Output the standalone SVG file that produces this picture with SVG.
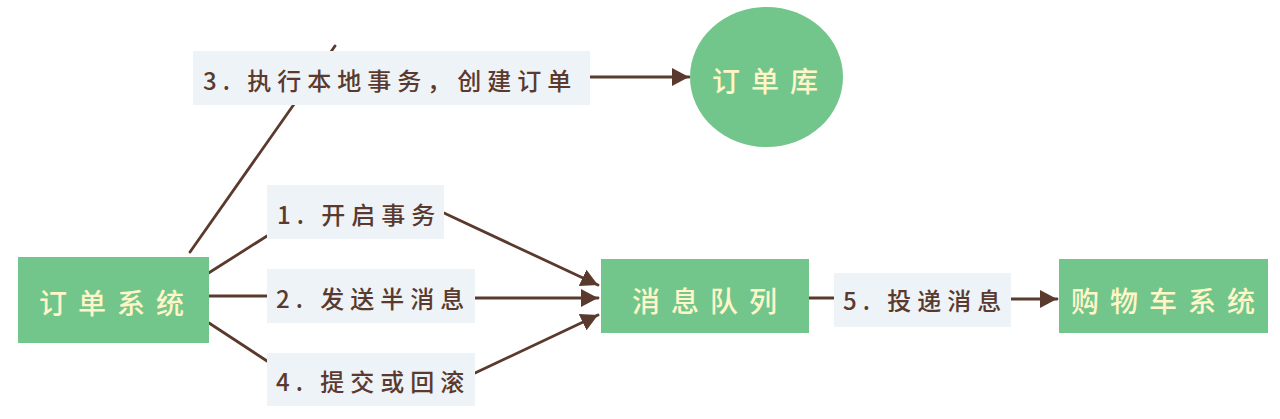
<svg xmlns="http://www.w3.org/2000/svg" width="1280" height="419" viewBox="0 0 1280 419">
<style>
.node{fill:#72C68B;}
.lbl{fill:#EEF3F7;}
.edge{stroke:#5B3A2E;stroke-width:2.8;fill:none;stroke-linecap:round;}
.arrow{marker-end:url(#ah);}
.nt{font-family:"Noto Sans CJK SC","Noto Sans",sans-serif;font-size:28px;font-weight:500;fill:#FFF6C8;letter-spacing:11px;dominant-baseline:central;}
.lt{font-family:"Noto Sans CJK SC","Noto Sans",sans-serif;font-size:24px;font-weight:500;fill:#5A3A2E;letter-spacing:6px;dominant-baseline:central;}
</style>
<defs>
<marker id="ah" markerUnits="userSpaceOnUse" markerWidth="18" markerHeight="18" refX="17" refY="9" orient="auto">
<path d="M0,0 L17,9 L0,18 Z" fill="#5B3A2E"/>
</marker>
</defs>
<rect width="1280" height="419" fill="#FFFFFF"/>
<g id="connectors">
<line class="edge" x1="190" y1="252" x2="335" y2="46"/>
<line class="edge arrow" x1="590" y1="77" x2="689" y2="77"/>
<line class="edge" x1="207" y1="274" x2="267" y2="236"/>
<line class="edge arrow" x1="444" y1="213" x2="598" y2="285"/>
<line class="edge" x1="209" y1="296" x2="267" y2="296"/>
<line class="edge arrow" x1="475" y1="298" x2="598" y2="298"/>
<line class="edge" x1="209" y1="323" x2="267" y2="361"/>
<line class="edge arrow" x1="475" y1="373" x2="598" y2="315"/>
<line class="edge" x1="809" y1="298" x2="834" y2="298"/>
<line class="edge arrow" x1="1011" y1="299" x2="1057" y2="299"/>
</g>
<g id="label3">
<rect class="lbl" x="193" y="51" width="397" height="54"/>
<text class="lt" x="203" y="79">3. 执行本地事务，创建订单</text>
</g>
<g id="label1">
<rect class="lbl" x="267" y="185" width="177" height="54"/>
<text class="lt" x="277" y="213">1. 开启事务</text>
</g>
<g id="label2">
<rect class="lbl" x="267" y="269" width="208" height="54"/>
<text class="lt" x="276" y="297">2. 发送半消息</text>
</g>
<g id="label4">
<rect class="lbl" x="267" y="353" width="208" height="53"/>
<text class="lt" x="276" y="380">4. 提交或回滚</text>
</g>
<g id="label5">
<rect class="lbl" x="834" y="273" width="177" height="54"/>
<text class="lt" x="843" y="299">5. 投递消息</text>
</g>
<g id="order-system">
<rect class="node" x="18" y="257" width="191" height="86"/>
<text class="nt" x="39" y="302">订单系统</text>
</g>
<g id="order-db">
<ellipse class="node" cx="766.5" cy="77" rx="76.5" ry="70"/>
<text class="nt" x="712" y="80">订单库</text>
</g>
<g id="message-queue">
<rect class="node" x="601" y="259" width="208" height="74"/>
<text class="nt" x="632" y="300">消息队列</text>
</g>
<g id="cart-system">
<rect class="node" x="1059" y="259" width="209" height="74"/>
<text class="nt" x="1071" y="300">购物车系统</text>
</g>
</svg>
